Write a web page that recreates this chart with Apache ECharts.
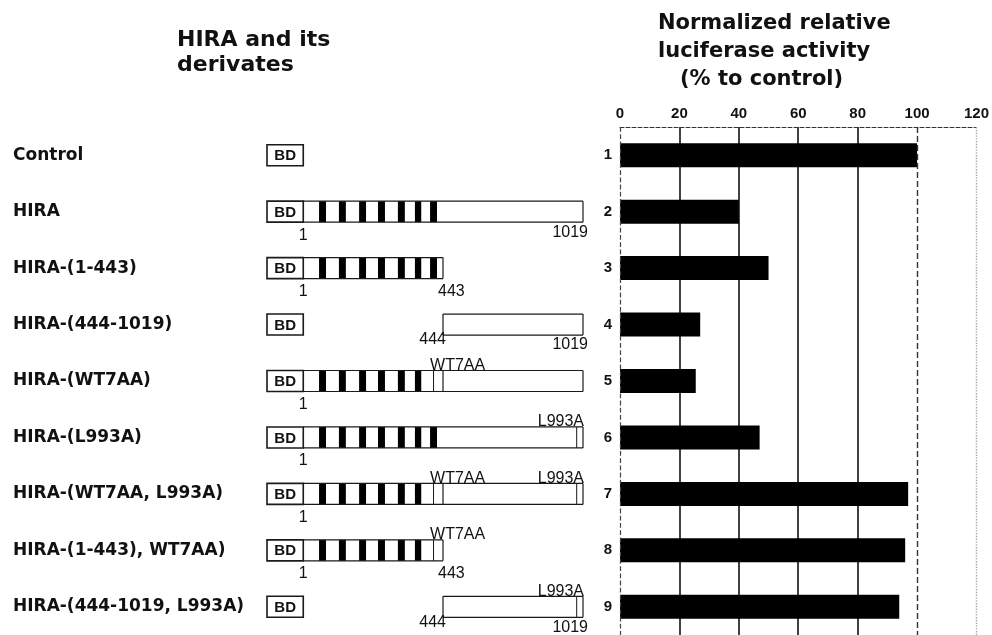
<!DOCTYPE html>
<html lang="en">
<head>
<meta charset="UTF-8">
<title>HIRA derivates - luciferase</title>
<script src="https://cdn.jsdelivr.net/npm/echarts@6/dist/echarts.min.js"></script>
<style>
    html, body { margin: 0; padding: 0; background: #fff; }
    #main { width: 992px; height: 635px; }
</style>
</head>
<body>
<div id="main"></div>
<script>
// constructs, top to bottom
var constructs = ['Control', 'HIRA', 'HIRA-(1-443)', 'HIRA-(444-1019)', 'HIRA-(WT7AA)', 'HIRA-(L993A)',
    'HIRA-(WT7AA, L993A)', 'HIRA-(1-443), WT7AA)', 'HIRA-(444-1019, L993A)'];
var laneNumbers = ['1', '2', '3', '4', '5', '6', '7', '8', '9'];
// normalized relative luciferase activity (% to control)
var activity = [100, 40, 50, 27, 25.5, 47, 97, 96, 94];
var activityTicks = [0, 20, 40, 60, 80, 100, 120];

// HIRA part fused to BD, in amino acids (null = BD alone)
var fragStart = [null, 1, 1, 444, 1, 1, 1, 1, 444];
var fragEnd = [null, 1019, 443, 1019, 1019, 1019, 1019, 443, 1019];
var hasWT7AA = [false, false, false, false, true, false, true, true, false];
var hasL993A = [false, false, false, false, false, true, true, false, true];
var startLabels = ['', '1', '1', '444', '1', '1', '1', '1', '444'];
var endLabels = ['', '1019', '443', '1019', '', '', '', '443', '1019'];
// WD repeats (black stripes), aa
var wdRepeats = [[50, 72], [113, 135], [177, 199], [237, 259], [300, 322], [354, 374], [402, 424]];
var HIRA_LEN = 1019, SPLIT = 443, L993 = 993;

var BOX_H = 21, BD_SPAN = 115;
var INK = '#1a1a1a';
var SMALL = '16px "Liberation Sans", Arial, sans-serif';

function hline(x0, x1, y) {
    return {type: 'line', shape: {x1: x0, y1: y, x2: x1, y2: y}, style: {stroke: INK, lineWidth: 1.2}};
}
function vline(x, y0, y1, w) {
    return {type: 'line', shape: {x1: x, y1: y0, x2: x, y2: y1}, style: {stroke: INK, lineWidth: w || 1.2}};
}
function txt(t, x, y, align, va) {
    return {type: 'text', style: {text: t, x: x, y: y, align: align, verticalAlign: va, font: SMALL, fill: '#111'}};
}

// BD + N-terminal half (1-443)
function renderN(params, api) {
    var i = params.dataIndex;
    var yc = api.coord([0, i])[1];
    var top = yc - BOX_H / 2, bot = yc + BOX_H / 2;
    var xBD = api.coord([-BD_SPAN, i])[0], x0 = api.coord([0, i])[0];
    var s = fragStart[i], e = fragEnd[i];
    var kids = [];
    if (s !== null && s <= SPLIT) {
        var x1 = api.coord([Math.min(e, SPLIT), i])[0];
        kids.push({type: 'rect', shape: {x: x0, y: top, width: x1 - x0, height: BOX_H}, style: {fill: '#fff'}});
        wdRepeats.forEach(function (r, k) {
            if (hasWT7AA[i] && k === wdRepeats.length - 1) return;
            var a = api.coord([r[0], i])[0], b = api.coord([r[1], i])[0];
            kids.push({type: 'rect', shape: {x: a, y: top, width: b - a, height: BOX_H}, style: {fill: '#000'}});
        });
        kids.push(hline(x0, x1, top), hline(x0, x1, bot));
        if (e <= SPLIT || hasWT7AA[i]) kids.push(vline(x1, top, bot));
        if (hasWT7AA[i]) {
            var r7 = wdRepeats[wdRepeats.length - 1];
            kids.push(vline(api.coord([(r7[0] + r7[1]) / 2, i])[0], top, bot, 1));
            kids.push(txt('WT7AA', api.coord([r7[0], i])[0], top + 3, 'left', 'bottom'));
        }
        if (startLabels[i]) kids.push(txt(startLabels[i], x0, bot + 5, 'center', 'top'));
        if (e <= SPLIT && endLabels[i]) kids.push(txt(endLabels[i], x1 - 5, bot + 5, 'left', 'top'));
    }
    kids.push({type: 'rect', shape: {x: xBD, y: top, width: x0 - xBD, height: BOX_H},
        style: {fill: '#fff', stroke: INK, lineWidth: 1.6}});
    kids.push({type: 'text', style: {text: 'BD', x: (xBD + x0) / 2, y: yc + 1, align: 'center', verticalAlign: 'middle',
        font: 'bold 15px "Liberation Sans", Arial, sans-serif', fill: '#111'}});
    return {type: 'group', children: kids};
}

// C-terminal half (444-1019)
function renderC(params, api) {
    var i = params.dataIndex;
    var s = fragStart[i], e = fragEnd[i];
    if (s === null || e <= SPLIT) return;
    var yc = api.coord([SPLIT, i])[1];
    var top = yc - BOX_H / 2, bot = yc + BOX_H / 2;
    var xa = api.coord([Math.max(s - 1, SPLIT), i])[0], xb = api.coord([e, i])[0];
    var kids = [];
    kids.push({type: 'rect', shape: {x: xa, y: top, width: xb - xa, height: BOX_H}, style: {fill: '#fff'}});
    kids.push(hline(xa, xb, top), hline(xa, xb, bot), vline(xb, top, bot));
    if (s > SPLIT) {
        kids.push(vline(xa, top, bot));
        kids.push(txt(startLabels[i], xa + 3, bot - 3, 'right', 'top'));
    }
    if (hasL993A[i]) {
        kids.push(vline(api.coord([L993, i])[0], top, bot, 1));
        kids.push(txt('L993A', xb + 1, top + 3, 'right', 'bottom'));
    }
    if (endLabels[i]) kids.push(txt(endLabels[i], xb + 5, bot + 2, 'right', 'top'));
    return {type: 'group', children: kids};
}

var rows = constructs.map(function (c, i) { return [0, i]; });
var band = {top: 127, height: 513};

var chart = echarts.init(document.getElementById('main'), null, {renderer: 'canvas'});
chart.setOption({
    animation: false,
    backgroundColor: '#fff',
    textStyle: {fontFamily: '"Liberation Sans", Arial, sans-serif'},
    graphic: [
        {type: 'text', left: 177, top: 28, style: {text: 'HIRA and its\nderivates',
            font: 'bold 22px "DejaVu Sans", sans-serif', lineHeight: 25, fill: '#111'}},
        {type: 'text', left: 658, top: 10, style: {text: 'Normalized relative\nluciferase activity',
            font: 'bold 21px "DejaVu Sans", sans-serif', lineHeight: 28, fill: '#111'}},
        {type: 'text', left: 680, top: 66, style: {text: '(% to control)',
            font: 'bold 21px "DejaVu Sans", sans-serif', lineHeight: 28, fill: '#111'}}
    ],
    grid: [
        {left: 620, width: 360, top: band.top, height: band.height},
        {left: 267, width: 176, top: band.top, height: band.height},
        {left: 443, width: 140, top: band.top, height: band.height}
    ],
    xAxis: [
        {
            type: 'value', gridIndex: 0, position: 'top',
            min: activityTicks[0], max: activityTicks[activityTicks.length - 1],
            interval: activityTicks[1] - activityTicks[0],
            axisLine: {show: true, lineStyle: {color: '#333', type: 'dashed', width: 1}},
            axisTick: {show: false},
            axisLabel: {margin: 6, color: '#111', fontSize: 15, fontWeight: 'bold'},
            splitLine: {show: true, lineStyle: {
                color: ['transparent', '#111', '#111', '#111', '#111', 'transparent', 'transparent'], width: 1.6}}
        },
        {type: 'value', gridIndex: 1, min: -BD_SPAN, max: SPLIT, show: false},
        {type: 'value', gridIndex: 2, min: SPLIT, max: HIRA_LEN, show: false}
    ],
    yAxis: [
        {
            type: 'category', gridIndex: 0, data: laneNumbers, inverse: true,
            axisLine: {show: false}, axisTick: {show: false},
            axisLabel: {margin: 8, color: '#111', fontSize: 15, fontWeight: 'bold'}
        },
        {
            type: 'category', gridIndex: 1, data: constructs, inverse: true,
            axisLine: {show: false}, axisTick: {show: false},
            axisLabel: {interval: 0, align: 'left', margin: 254, color: '#111',
                fontFamily: '"DejaVu Sans", sans-serif', fontSize: 17, fontWeight: 'bold'}
        },
        {type: 'category', gridIndex: 2, data: constructs, inverse: true, show: false}
    ],
    series: [
        {
            type: 'bar', xAxisIndex: 0, yAxisIndex: 0, data: activity,
            barWidth: 24, itemStyle: {color: '#000'},
            markLine: {
                silent: true, symbol: 'none', label: {show: false},
                data: [
                    {xAxis: 0, lineStyle: {color: '#444', type: 'dashed', width: 1.2}},
                    {xAxis: 100, lineStyle: {color: '#333', type: [6, 3], width: 1.4}},
                    {xAxis: 120, lineStyle: {color: '#aaa', type: 'dotted', width: 1.4}}
                ]
            }
        },
        {
            type: 'custom', xAxisIndex: 1, yAxisIndex: 1, data: rows,
            encode: {x: 0, y: 1}, renderItem: renderN, clip: false, z: 3
        },
        {
            type: 'custom', xAxisIndex: 2, yAxisIndex: 2, data: rows,
            encode: {x: 0, y: 1}, renderItem: renderC, clip: false, z: 2
        }
    ]
});
</script>
</body>
</html>
